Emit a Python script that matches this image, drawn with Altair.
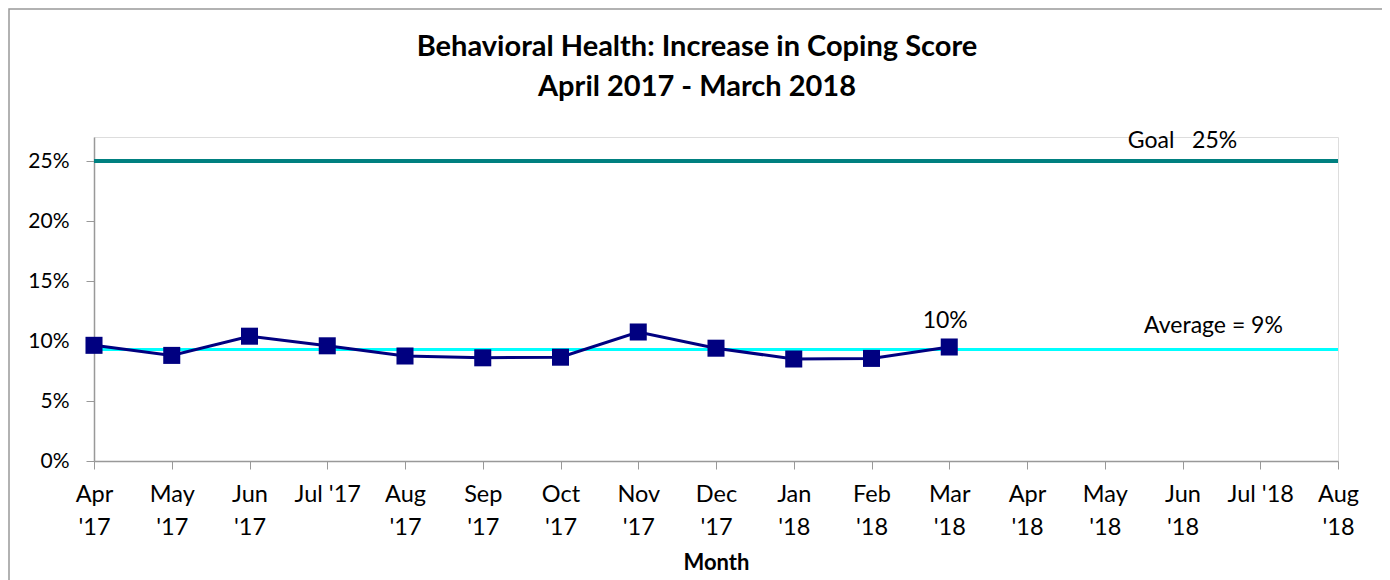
import altair as alt
import pandas as pd

months = ["Apr|'17", "May|'17", "Jun|'17", "Jul '17", "Aug|'17", "Sep|'17", "Oct|'17",
          "Nov|'17", "Dec|'17", "Jan|'18", "Feb|'18", "Mar|'18", "Apr|'18", "May|'18",
          "Jun|'18", "Jul '18", "Aug|'18"]
values = [0.0964, 0.088, 0.104, 0.096, 0.0875, 0.086, 0.0865, 0.1075, 0.094, 0.085,
          0.0855, 0.095, None, None, None, None, None]
average = 0.093
goal = 0.25
avg_label = "Average = 9%"
goal_label = "Goal\u00a0\u00a0\u00a025%"
last_label = "10%"
title_lines = ["Behavioral Health: Increase in Coping Score", "April 2017 - March 2018"]

FONT = "Lato"

df = pd.DataFrame({"month": months, "value": values})
df_vals = df.dropna()
df_last = df_vals.tail(1).assign(label=last_label)
df_goal = pd.DataFrame({"month": ["Jun|'18"], "value": [goal], "label": [goal_label]})
df_avg = pd.DataFrame({"month": ["Jun|'18"], "value": [average], "label": [avg_label]})
df_rules = pd.DataFrame({"value": [goal, average], "kind": ["goal", "avg"]})

x_enc = alt.X("month:N", sort=months,
              scale=alt.Scale(type="point", domain=months, padding=0),
              axis=alt.Axis(title="Month", labelExpr="split(datum.value, '|')",
                            labelAngle=0, labelFont=FONT, labelFontSize=23.5,
                            labelColor="#000", labelLineHeight=33, labelBaseline="top",
                            labelPadding=13, tickSize=8, tickColor="#999",
                            domainColor="#999", domainWidth=1.5,
                            titleFont=FONT, titleFontSize=22, titleFontWeight="bold",
                            titleColor="#000", titlePadding=14, grid=False))
y_scale = alt.Scale(domain=[0, 0.27], nice=False)
y_axis = alt.Axis(title=None, format=".0%", values=[0, 0.05, 0.10, 0.15, 0.20, 0.25],
                  labelFont=FONT, labelFontSize=21, labelColor="#000",
                  labelPadding=17, tickSize=8, tickColor="#999",
                  domainColor="#999", domainWidth=1.5, grid=False)

frame = alt.Chart(pd.DataFrame({"a": [0]})).mark_rect(
    fillOpacity=0, stroke="#999", strokeWidth=1.5
).encode(x=alt.value(-85), x2=alt.value(1293), y=alt.value(-128), y2=alt.value(460))

title1 = alt.Chart(pd.DataFrame({"t": [title_lines[0]]})).mark_text(
    font=FONT, fontSize=29, fontWeight="bold", color="#000", baseline="middle", align="center"
).encode(x=alt.value(603), y=alt.value(-90), text="t:N")
title2 = alt.Chart(pd.DataFrame({"t": [title_lines[1]]})).mark_text(
    font=FONT, fontSize=29, fontWeight="bold", color="#000", baseline="middle", align="center"
).encode(x=alt.value(603), y=alt.value(-50), text="t:N")

rules = alt.Chart(df_rules).mark_rule().encode(
    y=alt.Y("value:Q", scale=y_scale, axis=y_axis),
    color=alt.Color("kind:N", scale=alt.Scale(domain=["goal", "avg"],
                                              range=["#008080", "#00FFFF"]), legend=None),
    strokeWidth=alt.StrokeWidth("kind:N", scale=alt.Scale(domain=["goal", "avg"],
                                                          range=[4, 3]), legend=None),
)

line = alt.Chart(df_vals).mark_line(color="#000080", strokeWidth=3).encode(
    x=x_enc, y=alt.Y("value:Q", scale=y_scale, axis=y_axis))
pts = alt.Chart(df_vals).mark_point(shape="square", filled=True, color="#000080",
                                    size=290, opacity=1).encode(
    x=alt.X("month:N", sort=months), y=alt.Y("value:Q", scale=y_scale))

last_txt = alt.Chart(df_last).mark_text(font=FONT, fontSize=23, dy=-14, dx=-4,
                                        baseline="bottom", color="#000").encode(
    x=alt.X("month:N", sort=months), y=alt.Y("value:Q", scale=y_scale), text="label:N")
goal_txt = alt.Chart(df_goal).mark_text(font=FONT, fontSize=23, dy=-8,
                                        baseline="bottom", color="#000").encode(
    x=alt.X("month:N", sort=months), y=alt.Y("value:Q", scale=y_scale), text="label:N")
avg_txt = alt.Chart(df_avg).mark_text(font=FONT, fontSize=23, dy=-11, dx=31,
                                      baseline="bottom", color="#000").encode(
    x=alt.X("month:N", sort=months), y=alt.Y("value:Q", scale=y_scale), text="label:N")

chart = alt.layer(frame, title1, title2, rules, line, pts, last_txt, goal_txt, avg_txt).properties(
    width=1244, height=324,
    padding={"left": 86, "top": 129, "right": 44, "bottom": 122},
    autosize=alt.AutoSizeParams(type="none"),
).configure_view(stroke=None).configure(background="white")

chart.save("out.html", embed_options={"renderer": "svg", "actions": False})
